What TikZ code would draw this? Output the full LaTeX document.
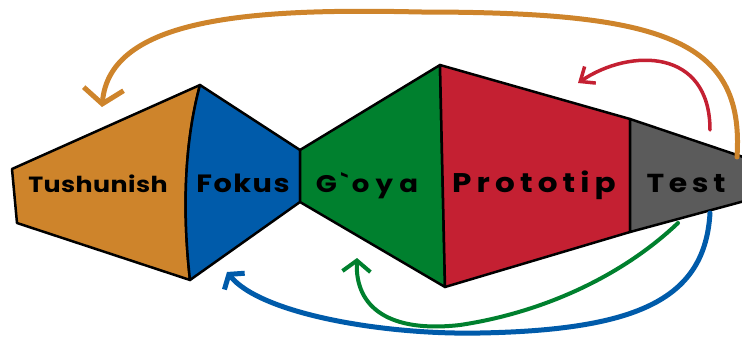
\documentclass[tikz,border=0pt]{standalone}
\usepackage{fontspec}
\setmainfont{Poppins}
\usetikzlibrary{arrows.meta}

\definecolor{tushorange}{RGB}{206,132,43}
\definecolor{fokusblue}{RGB}{0,91,170}
\definecolor{goyagreen}{RGB}{0,128,46}
\definecolor{protored}{RGB}{196,32,50}
\definecolor{testgray}{RGB}{91,91,91}

\begin{document}
\begin{tikzpicture}[x=1pt,y=1pt,
  stage/.style={draw=black,line width=2.5pt,line join=round},
  stagename/.style 2 args={anchor=base,inner sep=0pt,
    font=\fontsize{#1}{#1}\selectfont\bfseries\addfontfeature{FakeStretch=1.15,LetterSpace=#2}},
  backarrow/.style={line cap=round,line join=round}]
\useasboundingbox (0,0) rectangle (742,338);
%-------->corners<--------------
\coordinate (oa) at (12,169);   % orange left top
\coordinate (ob) at (17,115);   % orange left bottom
\coordinate (oc) at (200,253);  % orange/blue top
\coordinate (od) at (190,58);   % orange/blue bottom
\coordinate (be) at (300,188);  % blue/green top
\coordinate (bf) at (300,136);  % blue/green bottom
\coordinate (gg) at (440,273);  % green/red top
\coordinate (gh) at (445,51);   % green/red bottom
\coordinate (ri) at (630,219);  % red/gray top
\coordinate (rj) at (630,106);  % red/gray bottom
\coordinate (tk) at (752,178);  % gray right top
\coordinate (tl) at (752,139);  % gray right bottom
%-------->shapes<--------------
\filldraw[stage,fill=tushorange] (oa) -- (oc) .. controls (183,190) and (183,120) .. (od) -- (ob) -- cycle;
\filldraw[stage,fill=fokusblue] (oc) .. controls (183,190) and (183,120) .. (od) -- (bf) -- (be) -- cycle;
\filldraw[stage,fill=goyagreen] (be) -- (gg) -- (gh) -- (bf) -- cycle;
\filldraw[stage,fill=protored] (gg) -- (ri) -- (rj) -- (gh) -- cycle;
\filldraw[stage,fill=testgray] (ri) -- (tk) -- (tl) -- (rj) -- cycle;
%-------->nodes<--------------
\node[stagename={22}{2}] (tush) at (98,146) {Tushunish};
\node[stagename={25}{6}] (fokus) at (243,146) {Fokus};
\node[stagename={24}{26}] (goya) at (367,146) {G\kern4pt\textasciigrave\kern4pt oya};
\node[stagename={27}{19}] (proto) at (534,146) {Prototip};
\node[stagename={26}{18}] (test) at (686,146) {Test};
%-------->arrow ends<--------------
\coordinate (orangefrom) at (737,181);
\coordinate (orangeto) at (102,231);
\coordinate (redfrom) at (710,208);
\coordinate (redto) at (578,255);
\coordinate (greenfrom) at (678,115);
\coordinate (greento) at (357,80);
\coordinate (bluefrom) at (710,125);
\coordinate (blueto) at (227,66);
%-------->top arrows<--------------
\draw[backarrow,tushorange,line width=5pt,-{Straight Barb[length=15pt,width=40pt]}]
  (orangefrom) .. controls (745,300) and (660,326) .. (420,326)
  .. controls (250,330) and (110,320) .. (orangeto);
\draw[backarrow,protored,line width=3.5pt,-{Straight Barb[length=12pt,width=20pt]}]
  (redfrom) .. controls (710,290) and (630,290) .. (redto);
%-------->bottom arrows<--------------
\draw[backarrow,goyagreen,line width=4pt,-{Straight Barb[length=11pt,width=28pt]}]
  (greenfrom) .. controls (620,60) and (540,25) .. (460,13)
  .. controls (390,5) and (355,30) .. (greento);
\draw[backarrow,fokusblue,line width=5pt,-{Straight Barb[length=9pt,width=26pt]}]
  (bluefrom) .. controls (705,40) and (640,8) .. (480,5)
  .. controls (380,3) and (260,25) .. (blueto);
\end{tikzpicture}
\end{document}
